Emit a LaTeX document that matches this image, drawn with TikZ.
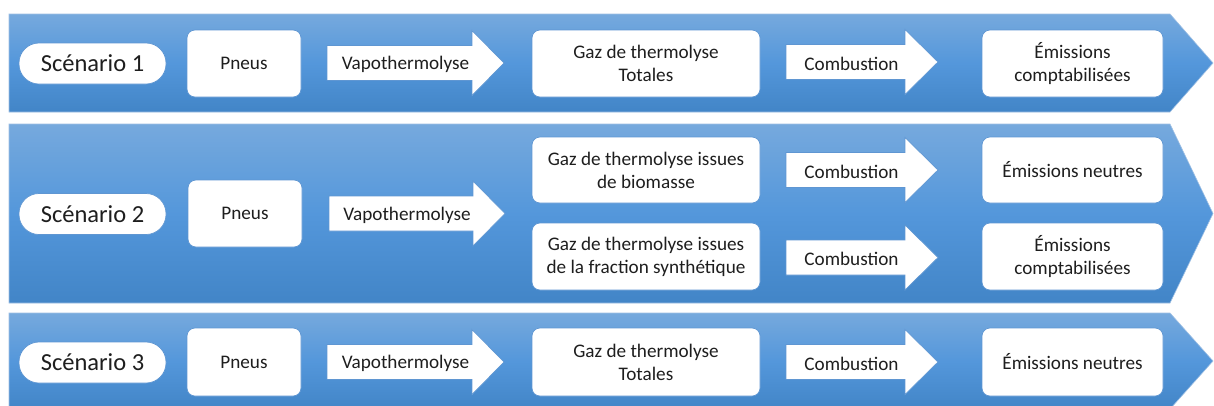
\documentclass[tikz,border=0pt]{standalone}
\usepackage{fontspec}
\setmainfont{Carlito}
\definecolor{bandtop}{RGB}{118,169,221}
\definecolor{bandmid}{RGB}{84,151,219}
\definecolor{bandbot}{RGB}{66,133,199}
\definecolor{edgeblue}{RGB}{95,150,210}
\definecolor{txt}{RGB}{30,30,30}
\newcommand\flowarr[6]{% name, x0, xbase, xtip, yc, text
  \path[arrowshape] (#2,#5-17.5) -- (#3,#5-17.5) -- (#3,#5-32.5) -- (#4,#5)
    -- (#3,#5+32.5) -- (#3,#5+17.5) -- (#2,#5+17.5) -- cycle;
  \node[arrowtext] (#1) at ({(#2+#3)/2+6},#5+1.5) {#6};}
\begin{document}
\begin{tikzpicture}[x=1pt,y=-1pt,
  band/.style={draw=edgeblue!60!white, line width=0.6pt, top color=bandtop, bottom color=bandbot, middle color=bandmid},
  box/.style={draw=edgeblue, line width=0.7pt, fill=white, rounded corners=8pt, align=center,
    font=\fontsize{19.2}{23}\selectfont, text=txt, inner sep=0pt},
  pill/.style={draw=edgeblue, line width=0.7pt, fill=white, rounded corners=20pt,
    minimum width=147pt, minimum height=41pt, font=\fontsize{24.5}{28}\selectfont, text=txt, inner sep=0pt},
  arrowshape/.style={draw=edgeblue, line width=0.7pt, fill=white},
  arrowtext/.style={font=\fontsize{19.2}{23}\selectfont, text=txt, inner sep=0pt}]
\useasboundingbox (0,0) rectangle (1214,405);
\fill[white] (0,0) rectangle (1214,405);
% bands
\path[band] (9,14) -- (1170,14) -- (1213,63) -- (1170,112) -- (9,112) -- cycle;
\path[band] (9,124) -- (1170,124) -- (1213,213.5) -- (1170,303) -- (9,303) -- cycle;
\path[band] (9,313) -- (1170,313) -- (1213,361) -- (1170,409) -- (9,409) -- cycle;
% row 1
\node[pill] (s1) at (92.5,63.5) {Scénario 1};
\node[box, minimum width=114pt, minimum height=67pt] (p1) at (244,63.5) {Pneus};
\flowarr{v1}{327}{472}{504}{63}{Vapothermolyse}
\node[box, minimum width=228pt, minimum height=67pt] (g1) at (646,63.5) {Gaz de thermolyse\\Totales};
\flowarr{c1}{786}{905}{938}{62}{Combustion}
\node[box, minimum width=181pt, minimum height=67pt] (e1) at (1072.5,63.5) {Émissions\\comptabilisées};
% row 2
\node[pill] (s2) at (92.5,214) {Scénario 2};
\node[box, minimum width=114pt, minimum height=67pt] (p2) at (245,213.5) {Pneus};
\flowarr{v2}{329}{473}{505}{213.5}{Vapothermolyse}
\node[box, minimum width=228pt, minimum height=66pt] (g2a) at (646,170) {Gaz de thermolyse issues\\de biomasse};
\node[box, minimum width=228pt, minimum height=67pt] (g2b) at (646,256.5) {Gaz de thermolyse issues\\de la fraction synthétique};
\flowarr{c2a}{786}{905}{938}{170}{Combustion}
\flowarr{c2b}{786}{905}{938}{257.5}{Combustion}
\node[box, minimum width=181pt, minimum height=66pt] (e2a) at (1072.5,170) {Émissions neutres};
\node[box, minimum width=181pt, minimum height=67pt] (e2b) at (1072.5,256.5) {Émissions\\comptabilisées};
% row 3
\node[pill] (s3) at (92.5,362.5) {Scénario 3};
\node[box, minimum width=114pt, minimum height=68pt] (p3) at (244,362) {Pneus};
\flowarr{v3}{327}{472}{504}{362}{Vapothermolyse}
\node[box, minimum width=228pt, minimum height=68pt] (g3) at (646,362) {Gaz de thermolyse\\Totales};
\flowarr{c3}{786}{905}{938}{362}{Combustion}
\node[box, minimum width=181pt, minimum height=68pt] (e3) at (1072.5,362) {Émissions neutres};
\end{tikzpicture}
\end{document}
